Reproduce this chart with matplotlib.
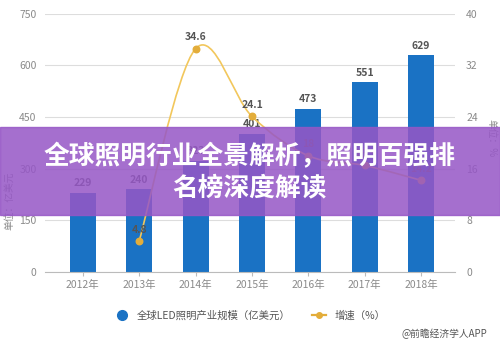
import matplotlib.pyplot as plt
import numpy as np
from matplotlib.path import Path
from matplotlib.patches import PathPatch, Rectangle
from matplotlib.lines import Line2D

plt.rcParams['font.family'] = ['Noto Sans CJK SC', 'DejaVu Sans']

# Data
years = ['2012年', '2013年', '2014年', '2015年', '2016年', '2017年', '2018年']
scale = [229, 240, 323, 401, 473, 551, 629]          # 亿美元
growth_years = [1, 2, 3, 4, 5, 6]                    # index into years
growth = [4.8, 34.6, 24.1, 18.0, 16.5, 14.2]         # %
growth_labels = ['4.8', '34.6', '24.1', '18', '16.5', '14.2']

bar_color = '#1a72c4'
line_color = '#f2c75c'
dot_color = '#e3ad3a'
grey = '#8a8a8a'

fig = plt.figure(figsize=(5, 3.46), dpi=100)
ax = fig.add_axes([0.09, 0.214, 0.82, 0.746])
x = np.arange(len(years))
ax.bar(x, scale, width=0.46, color=bar_color, zorder=2)
for xi, v in zip(x, scale):
    ax.text(xi, v + 14, str(v), ha='center', va='bottom', fontsize=7.5,
            fontweight='bold', color='#555555', zorder=5)

ax.set_xlim(-0.67, 6.6)
ax.set_ylim(0, 750)
ax.set_yticks([0, 150, 300, 450, 600, 750])
ax.set_xticks(x)
ax.set_xticklabels(years)
ax.grid(axis='y', color='#dddddd', lw=0.8, zorder=0)
for s in ['top', 'right', 'left']:
    ax.spines[s].set_visible(False)
ax.spines['bottom'].set_color('#bbbbbb')
ax.tick_params(axis='y', length=0, labelsize=7.5, labelcolor=grey, pad=6)
ax.tick_params(axis='x', length=3, color='#bbbbbb', labelsize=7.5, labelcolor=grey, pad=3)

ax2 = ax.twinx()
ax2.set_ylim(0, 40)
ax2.set_yticks([0, 8, 16, 24, 32, 40])
for s in ax2.spines.values():
    s.set_visible(False)
ax2.tick_params(axis='y', length=0, labelsize=7.5, labelcolor=grey, pad=8)

# smooth growth curve (Catmull-Rom drawn as cubic Bezier)
px = np.array(growth_years, dtype=float)
py = np.array(growth, dtype=float)
P = np.column_stack([px, py])
Pe = np.vstack([P[0], P, P[-1]])
verts = [tuple(P[0])]
codes = [Path.MOVETO]
for i in range(1, len(Pe) - 2):
    c1 = Pe[i] + (Pe[i + 1] - Pe[i - 1]) / 6
    c2 = Pe[i + 1] - (Pe[i + 2] - Pe[i]) / 6
    verts += [tuple(c1), tuple(c2), tuple(Pe[i + 1])]
    codes += [Path.CURVE4] * 3
ax2.add_patch(PathPatch(Path(verts, codes), fill=False, ec=line_color, lw=1.2, zorder=3))
ax2.scatter(px, py, s=22, color=dot_color, zorder=4)
for xi, v, lab in zip(px, py, growth_labels):
    ax2.text(xi, v + 1.0, lab, ha='center', va='bottom', fontsize=7.5,
             fontweight='bold', color='#555555', zorder=5)

fig.text(0.018, 0.42, '单位：亿美元', rotation=90, ha='center', va='center',
         fontsize=7, color=grey)
fig.text(0.982, 0.6, '单位：%', rotation=270, ha='center', va='center',
         fontsize=7, color=grey)

# legend
leg_handles = [
    Line2D([], [], marker='o', ls='none', color=bar_color, markersize=7),
    Line2D([], [], marker='o', color=dot_color, lw=1.6, markersize=4),
]
fig.legend(leg_handles, ['全球LED照明产业规模（亿美元）', '增速（%）'],
           loc='center', bbox_to_anchor=(0.5, 0.087), ncol=2, frameon=False,
           fontsize=7.5, handlelength=1.4, columnspacing=2.0, labelcolor='#555555')
fig.text(0.975, 0.035, '@前瞻经济学人APP', ha='right', va='center',
         fontsize=7, color='#555555')

# banner overlay
fig.patches.append(Rectangle((0, 1 - 215 / 346), 1, 88 / 346, transform=fig.transFigure,
                             color='#9657c6', alpha=0.86, zorder=10))
fig.text(0.5, 1 - 157 / 346, '全球照明行业全景解析，照明百强排', ha='center', va='center',
         fontsize=18.5, fontweight='bold', color='white', zorder=11)
fig.text(0.5, 1 - 188 / 346, '名榜深度解读', ha='center', va='center',
         fontsize=18.5, fontweight='bold', color='white', zorder=11)

plt.savefig('out.png', dpi=100)
